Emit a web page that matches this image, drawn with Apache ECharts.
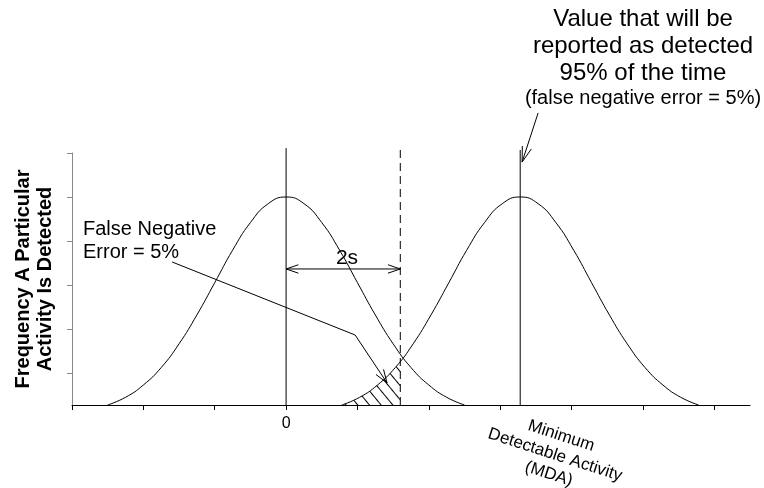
<!DOCTYPE html>
<html>
<head>
<meta charset="utf-8">
<script src="https://cdn.jsdelivr.net/npm/echarts@6/dist/echarts.min.js"></script>
<style>
  html, body { margin: 0; padding: 0; background: #fff; }
  #main { width: 764px; height: 488px; }
</style>
</head>
<body>
<div id="main"></div>
<script>
// blank (zero activity) distribution, x in units of s
const nullX = [-2.5, -2.25, -2, -1.75, -1.5, -1.25, -1, -0.75, -0.5, -0.25, 0,
  0.25, 0.5, 0.75, 1, 1.25, 1.5, 1.75, 2, 2.25, 2.5];
const nullY = [0, 0.037, 0.096, 0.180, 0.294, 0.433, 0.588, 0.744, 0.877, 0.968, 1,
  0.968, 0.877, 0.744, 0.588, 0.433, 0.294, 0.180, 0.096, 0.037, 0];
// distribution centred on the MDA
const mdaX = [0.78, 1.03, 1.28, 1.53, 1.78, 2.03, 2.28, 2.53, 2.78, 3.03, 3.28,
  3.53, 3.78, 4.03, 4.28, 4.53, 4.78, 5.03, 5.28, 5.53, 5.78];
const mdaY = [0, 0.037, 0.096, 0.180, 0.294, 0.433, 0.588, 0.744, 0.877, 0.968, 1,
  0.968, 0.877, 0.744, 0.588, 0.433, 0.294, 0.180, 0.096, 0.037, 0];
// hatched tail of the MDA curve below the decision level
const tailX = [0.78, 1.03, 1.28, 1.53, 1.6];
const tailY = [0, 0.037, 0.096, 0.180, 0.209];
// vertical lines: zero, decision level (dashed), MDA
const markerX = [0, 1.6, 3.28];
const markerTop = [1.235, 1.245, 1.226];
// axis ticks
const xTicks = [-3, -2, -1, 0, 1, 2, 3, 4, 5, 6];
const xLabels = [0];
const yTicks = [0.1538, 0.3654, 0.5769, 0.7885, 1.0, 1.2115];
// annotation arrows (data coords)
const twoSArrow = [[0, 0.654], [1.6, 0.654]];
const leaderLine = [[-1.597, 0.6875], [0.967, 0.3365], [1.415, 0.1058]];
const mdaArrow = [[3.531, 1.404], [3.307, 1.168]];

const FONT = 'Arial, "Liberation Sans", sans-serif';
const zip = (xs, ys) => xs.map((x, i) => [x, ys[i]]);
const hatch = { symbol: 'rect', symbolSize: 1, color: '#000',
  dashArrayX: [1, 0], dashArrayY: [1, 8], rotation: Math.PI * 0.28 };

let chart = echarts.init(document.getElementById('main'));
let option = {
  animation: false,
  backgroundColor: '#fff',
  aria: { enabled: true, decal: { show: true } },
  grid: { left: 72, right: 14, top: 153, bottom: 83 },
  xAxis: {
    type: 'value', min: -3, max: 6.5,
    axisLine: { onZero: false, lineStyle: { color: '#000', width: 1 } },
    axisTick: { customValues: xTicks, length: 5, lineStyle: { color: '#000' } },
    axisLabel: { customValues: xLabels, margin: 11, fontSize: 16, color: '#000', fontFamily: FONT },
    splitLine: { show: false }
  },
  yAxis: {
    type: 'value', min: 0, max: 1.2115,
    axisLine: { show: true, onZero: false, lineStyle: { color: '#888', width: 1 } },
    axisTick: { show: true, customValues: yTicks, length: 5, lineStyle: { color: '#888' } },
    axisLabel: { show: false },
    splitLine: { show: false }
  },
  series: [
    {
      name: 'tail', type: 'line', data: zip(tailX, tailY), smooth: true,
      symbol: 'none', lineStyle: { width: 0 },
      itemStyle: { color: '#fff', decal: hatch },
      areaStyle: { color: '#fff', opacity: 1 }
    },
    {
      name: 'blank', type: 'line', data: zip(nullX, nullY), smooth: true,
      symbol: 'none', lineStyle: { color: '#000', width: 1 }
    },
    {
      name: 'mda', type: 'line', data: zip(mdaX, mdaY), smooth: true,
      symbol: 'none', lineStyle: { color: '#000', width: 1 }
    }
  ]
};
chart.setOption(option);

// vertical lines, arrows and text on top
const px = p => chart.convertToPixel({ gridIndex: 0 }, p);
function line(pts, dash) {
  return { type: 'polyline', z: 100, shape: { points: pts.map(px) },
    style: { stroke: '#000', lineWidth: 1, fill: 'none', lineDash: dash || null } };
}
function head(tipD, fromD, len, ang) {
  const t = px(tipD), f = px(fromD);
  const a = Math.atan2(f[1] - t[1], f[0] - t[0]);
  return { type: 'polyline', z: 100,
    shape: { points: [[t[0] + len * Math.cos(a + ang), t[1] + len * Math.sin(a + ang)], t,
      [t[0] + len * Math.cos(a - ang), t[1] + len * Math.sin(a - ang)]] },
    style: { stroke: '#000', lineWidth: 1, fill: 'none' } };
}
function txt(x, y, text, size, lh) {
  return { type: 'text', z: 100, x: x, y: y,
    style: { text: text, font: size + 'px ' + FONT, fill: '#000',
      align: 'center', verticalAlign: 'middle', lineHeight: lh || size } };
}

const graphics = markerX.map((x, i) =>
  line([[x, 0], [x, markerTop[i]]], i === 1 ? [8, 5] : null));
graphics.push(
  line(twoSArrow),
  head(twoSArrow[0], twoSArrow[1], 13, 0.33),
  head(twoSArrow[1], twoSArrow[0], 13, 0.33),
  line(leaderLine),
  head(leaderLine[2], leaderLine[1], 14, 0.33),
  line(mdaArrow),
  head(mdaArrow[1], mdaArrow[0], 16, 0.3),
  txt(643, 46, 'Value that will be\nreported as detected\n95% of the time', 24, 27),
  txt(643, 98, '(false negative error = 5%)', 20),
  txt(347, 258, '2s', 21),
  { type: 'text', z: 100, x: 83, y: 241,
    style: { text: 'False Negative\nError = 5%', font: '20px ' + FONT, fill: '#000',
      align: 'left', verticalAlign: 'middle', lineHeight: 23 } },
  { type: 'text', z: 100, x: 555, y: 455, rotation: -0.314,
    style: { text: 'Minimum\nDetectable Activity\n(MDA)', font: '17px ' + FONT, fill: '#000',
      align: 'center', verticalAlign: 'middle', lineHeight: 20 } },
  { type: 'text', z: 100, x: 34, y: 279, rotation: Math.PI / 2,
    style: { text: 'Frequency A Particular\nActivity Is Detected', font: 'bold 20px ' + FONT,
      fill: '#000', align: 'center', verticalAlign: 'middle', lineHeight: 22 } }
);
chart.setOption({ graphic: graphics });
</script>
</body>
</html>
